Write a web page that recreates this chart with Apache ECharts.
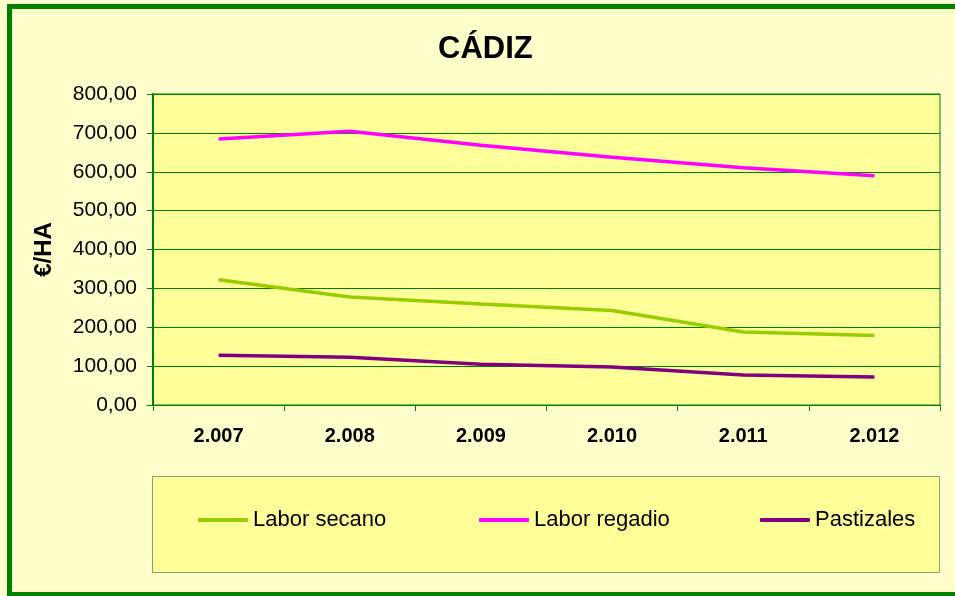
<!DOCTYPE html>
<html>
<head>
<meta charset="utf-8">
<script src="https://cdn.jsdelivr.net/npm/echarts@6/dist/echarts.min.js"></script>
<style>
    html, body { margin: 0; padding: 0; background: #FFFFCC; }
    #chart { width: 955px; height: 596px; }
</style>
</head>
<body>
<div id="chart"></div>
<script>
var years = ['2.007', '2.008', '2.009', '2.010', '2.011', '2.012'];
var laborSecano = [322, 278, 260, 243, 188, 179];
var laborRegadio = [684, 704, 668, 637, 610, 590];
var pastizales = [128, 123, 105, 98, 77, 72];
var seriesNames = ['Labor secano', 'Labor regadio', 'Pastizales'];
var seriesColors = ['#99CC00', '#FF00FF', '#800080'];

var myChart = echarts.init(document.getElementById('chart'));

function legendFor(name, left) {
    return {
        data: [name],
        left: left,
        top: 509,
        icon: 'roundRect',
        itemWidth: 50,
        itemHeight: 4,
        itemGap: 0,
        padding: 0,
        textStyle: {
            fontFamily: 'Liberation Sans, Arial',
            fontSize: 22,
            color: '#000'
        }
    };
}

function lineSeries(idx, values) {
    return {
        name: seriesNames[idx],
        type: 'line',
        data: values,
        symbol: 'none',
        silent: true,
        lineStyle: { color: seriesColors[idx], width: 3.5 },
        itemStyle: { color: seriesColors[idx] }
    };
}

var option = {
    backgroundColor: '#FFFFCC',
    animation: false,
    title: {
        text: 'CÁDIZ',
        left: 438,
        top: 34,
        padding: 0,
        textStyle: {
            fontFamily: 'Liberation Sans, Arial',
            fontSize: 31,
            fontWeight: 'bold',
            color: '#000'
        }
    },
    graphic: [
        {
            type: 'rect',
            shape: { x: 9.5, y: 6.5, width: 960, height: 588 },
            style: { fill: 'none', stroke: '#008000', lineWidth: 5 },
            z: 100
        },
        {
            type: 'rect',
            shape: { x: 152.5, y: 476.5, width: 787, height: 96 },
            style: { fill: '#FFFF99', stroke: '#7FA860', lineWidth: 1 },
            z: -1
        }
    ],
    legend: [
        legendFor(seriesNames[0], 198),
        legendFor(seriesNames[1], 479),
        legendFor(seriesNames[2], 760)
    ],
    grid: {
        left: 153,
        top: 94,
        right: 15,
        bottom: 191,
        show: true,
        backgroundColor: '#FFFF99',
        borderColor: '#008000',
        borderWidth: 1
    },
    xAxis: {
        type: 'category',
        data: years,
        boundaryGap: true,
        axisLine: { lineStyle: { color: '#008000', width: 1 } },
        axisTick: { show: true, length: 6, lineStyle: { color: '#008000' } },
        axisLabel: {
            margin: 21,
            fontFamily: 'Liberation Sans, Arial',
            fontSize: 20,
            fontWeight: 'bold',
            color: '#000'
        }
    },
    yAxis: {
        type: 'value',
        min: 0,
        max: 800,
        interval: 100,
        name: '€/HA',
        nameLocation: 'middle',
        nameGap: 97,
        nameRotate: 90,
        nameTextStyle: {
            fontFamily: 'Liberation Sans, Arial',
            fontSize: 24,
            fontWeight: 'bold',
            color: '#000'
        },
        axisLine: { show: true, lineStyle: { color: '#008000', width: 2 } },
        axisTick: { show: true, length: 6, lineStyle: { color: '#008000' } },
        splitLine: { lineStyle: { color: '#008000', width: 1 } },
        axisLabel: {
            margin: 16,
            fontFamily: 'Liberation Sans, Arial',
            fontSize: 21,
            color: '#000',
            formatter: function (v) {
                return v.toFixed(2).replace('.', ',');
            }
        }
    },
    series: [
        lineSeries(0, laborSecano),
        lineSeries(1, laborRegadio),
        lineSeries(2, pastizales)
    ]
};

myChart.setOption(option);
</script>
</body>
</html>
